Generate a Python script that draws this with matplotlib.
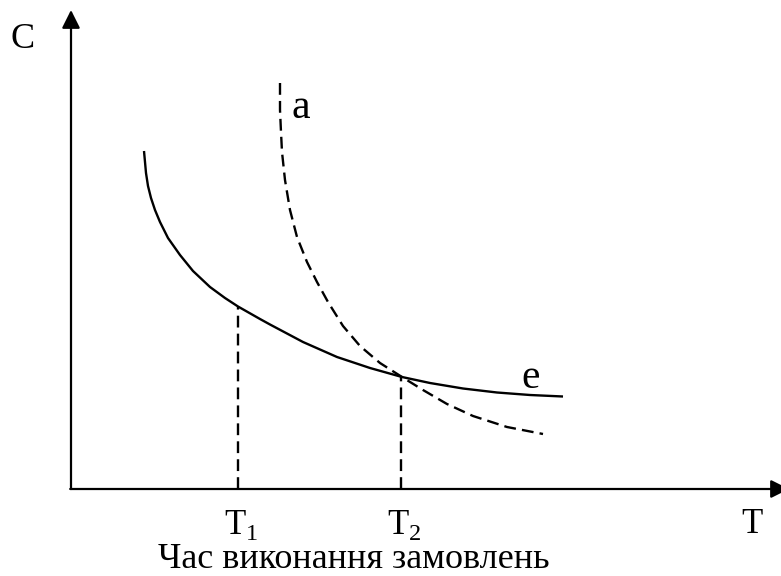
import numpy as np
import matplotlib.pyplot as plt

plt.rcParams['font.family'] = 'Liberation Serif'
plt.rcParams['mathtext.fontset'] = 'custom'
plt.rcParams['mathtext.rm'] = 'Liberation Serif'

# curve e (solid), picture pixels
e_px = [144, 145, 146, 148, 151, 155, 160, 168, 180, 193, 210, 225, 238, 260, 270, 303, 337, 370, 402, 430, 463, 497, 530, 563]
e_py = [151, 162, 173, 186, 198, 210, 222, 238, 255, 271, 287, 298, 306.5, 319, 324.5, 342, 357, 368, 377, 383, 388.5, 392.5, 395, 396.5]

# curve a (dashed)
a_px = [280, 280, 281, 282, 285, 290, 297, 307, 317, 328, 343, 360, 380, 402, 423, 447, 473, 507, 543]
a_py = [83, 110, 132, 152, 180, 210, 237, 262, 282, 302, 326, 346, 363, 377, 390, 404, 416, 427, 434]

# origin of the axes in the picture
x0, y0 = 71, 489
e_x = np.array(e_px) - x0
e_y = y0 - np.array(e_py)
a_x = np.array(a_px) - x0
a_y = y0 - np.array(a_py)

# time marks
t_marks = [167, 330]
t_labels = ["T$_\\mathregular{1}$", "T$_\\mathregular{2}$"]
t_heights = [182.5, 112]

fig = plt.figure(figsize=(7.81, 5.76), dpi=100)
ax = fig.add_axes([0, 0, 1, 1])
ax.set_xlim(-71, 710)
ax.set_ylim(-87, 489)
ax.axis('off')

arrow = dict(arrowstyle='-|>,head_length=1.1,head_width=0.55', lw=1.6, color='black',
             shrinkA=0, shrinkB=0)
# axes with arrows
ax.annotate('', xy=(0, 479), xytext=(0, 0), arrowprops=arrow, annotation_clip=False)
ax.annotate('', xy=(718, 0), xytext=(-0.8, 0), arrowprops=arrow, annotation_clip=False)

dash = (0, (5, 2.6))
ax.plot(e_x, e_y, color='black', lw=1.7, solid_joinstyle='round', solid_capstyle='butt')
ax.plot(a_x, a_y, color='black', lw=1.7, linestyle=dash, dash_joinstyle='round')

for x, h, lab in zip(t_marks, t_heights, t_labels):
    ax.plot([x, x], [0, h], color='black', lw=1.7, linestyle=dash)
    ax.text(x + 3, -45, lab, fontsize=25, ha='center', va='baseline')

ax.text(-48, 449, 'C', fontsize=26, ha='center', va='center')
ax.text(230, 381, 'a', fontsize=30, ha='center', va='center')
ax.text(460, 111, 'e', fontsize=30, ha='center', va='center')
ax.text(681, -44, 'T', fontsize=25, ha='center', va='baseline')
ax.text(283, -79, 'Час виконання замовлень', fontsize=26, ha='center', va='baseline')

fig.savefig('out.png', dpi=100)
